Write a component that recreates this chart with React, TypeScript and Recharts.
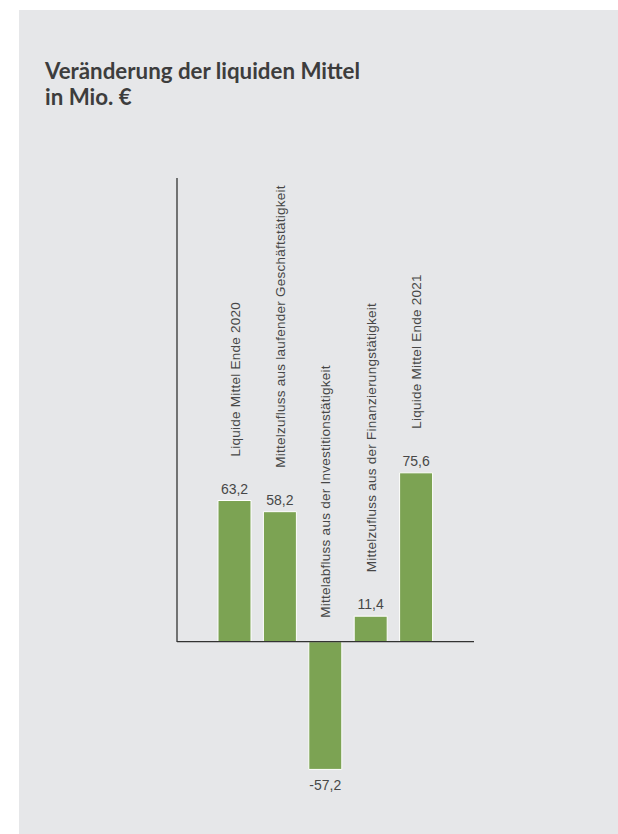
import React from 'react';
import { BarChart, Bar, XAxis, YAxis, ReferenceLine, LabelList } from 'recharts';

// Werte in Mio. €
const categories = [
  'Liquide Mittel Ende 2020',
  'Mittelzufluss aus laufender Geschäftstätigkeit',
  'Mittelabfluss aus der Investitionstätigkeit',
  'Mittelzufluss aus der Finanzierungstätigkeit',
  'Liquide Mittel Ende 2021',
];
const values = [63.2, 58.2, -57.2, 11.4, 75.6];

const data = categories.map((name, i) => ({ name, value: values[i] }));

const GREEN = '#7ca353';
const AXIS = '#333333';
const TEXT = '#474747';
const FONT = "'Liberation Sans', Arial, sans-serif";

const fmt = (v: number) => v.toFixed(1).replace('.', ',');

const BarLabels = (props: any) => {
  const { x, y, width, height, index, value } = props;
  const cx = Number(x) + Number(width) / 2;
  const a = Number(y);
  const b = Number(y) + Number(height);
  const top = Math.min(a, b);
  const bottom = Math.max(a, b);
  const positive = Number(value) >= 0;
  const zero = positive ? bottom : top;
  const catStart = positive ? top - 44 : zero - 24;
  const valY = positive ? top - 7 : bottom + 21;
  return (
    <g>
      <text x={cx} y={valY} textAnchor="middle" fill={TEXT} fontSize={14} fontFamily={FONT}>
        {fmt(Number(value))}
      </text>
      <text
        transform={`translate(${cx + 5},${catStart}) rotate(-90)`}
        textAnchor="start"
        fill={TEXT}
        fontSize={13.5}
        fontFamily={FONT}
        letterSpacing={0.25}
      >
        {categories[index]}
      </text>
    </g>
  );
};

export default function App() {
  return (
    <div style={{ position: 'absolute', left: 0, top: 0, width: 618, height: 834, background: '#fff', overflow: 'hidden' }}>
      <div style={{ position: 'absolute', left: 19, top: 10, width: 599, height: 824, background: '#e6e7e9' }} />
      <div
        style={{
          position: 'absolute',
          left: 45,
          top: 58,
          fontFamily: 'Lato, sans-serif',
          fontWeight: 700,
          fontSize: 22.3,
          lineHeight: '26px',
          color: '#3d3d3d',
        }}
      >
        Veränderung der liquiden Mittel
        <br />
        in Mio. €
      </div>
      <div style={{ position: 'absolute', left: 0, top: 0 }}>
        <BarChart
          width={618}
          height={834}
          data={data}
          margin={{ top: 178, right: 144, bottom: 36, left: 176 }}
        >
          <XAxis dataKey="name" hide padding={{ left: 35, right: 35 }} />
          <YAxis
            type="number"
            domain={[-70, 207.6]}
            allowDataOverflow
            width={1}
            tick={false}
            tickLine={false}
            axisLine={{ stroke: AXIS, strokeWidth: 1.3, strokeDasharray: '464 2000' }}
          />
          <Bar dataKey="value" fill={GREEN} stroke="#ffffff" strokeWidth={1} barSize={33} isAnimationActive={false}>
            <LabelList dataKey="value" content={(p: any) => <BarLabels {...p} />} />
          </Bar>
          <ReferenceLine y={0} stroke={AXIS} strokeWidth={1.3} />
        </BarChart>
      </div>
    </div>
  );
}
